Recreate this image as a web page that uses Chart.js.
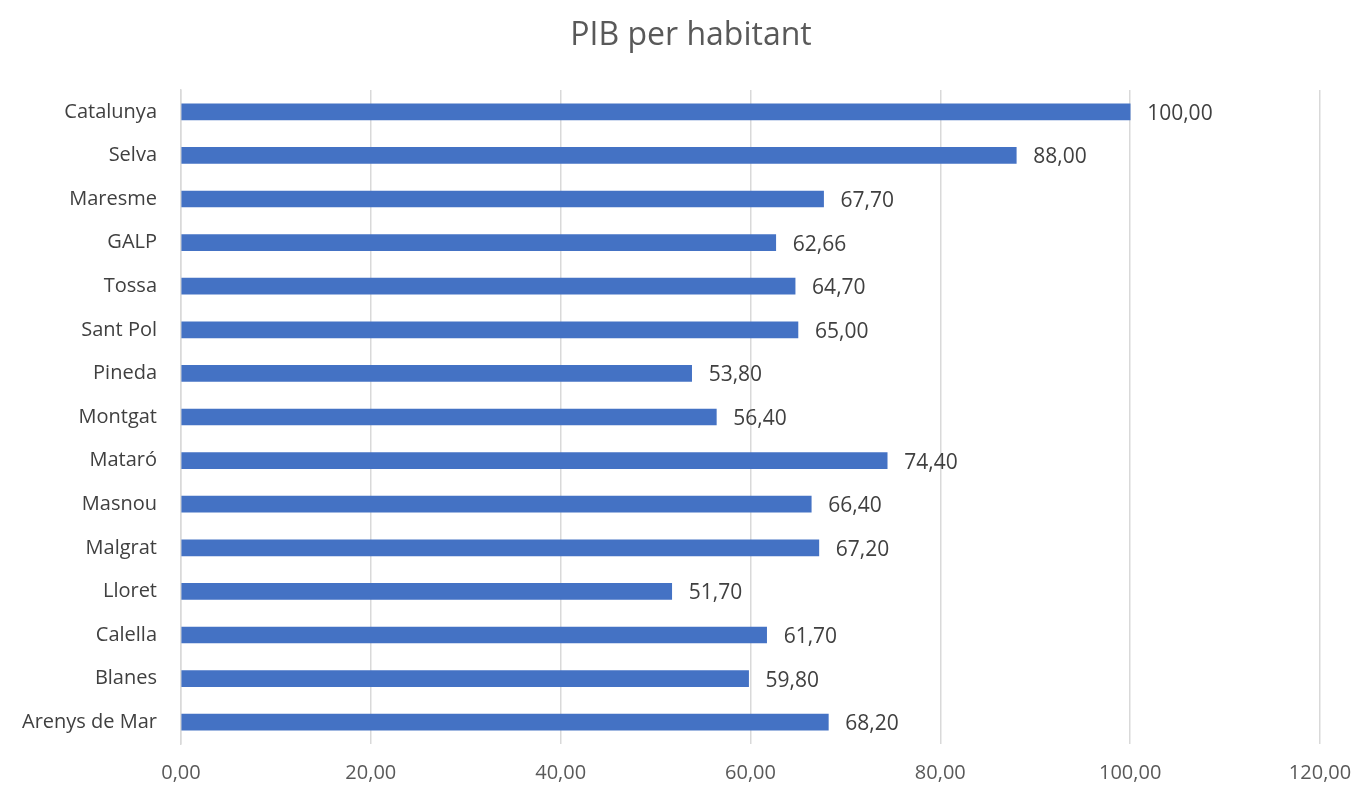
<!DOCTYPE html>
<html>
<head>
<meta charset="utf-8">
<script src="https://cdn.jsdelivr.net/npm/chart.js@4"></script>
<style>
  html, body { margin: 0; padding: 0; background: #fff; }
  #wrap { width: 1357px; height: 791px; }
</style>
</head>
<body>
<div id="wrap"><canvas id="myChart" width="1357" height="791"></canvas></div>
<script>
// category names, top to bottom
const municipis = ['Catalunya', 'Selva', 'Maresme', 'GALP', 'Tossa', 'Sant Pol', 'Pineda',
    'Montgat', 'Mataró', 'Masnou', 'Malgrat', 'Lloret', 'Calella', 'Blanes', 'Arenys de Mar'];
const pibHabitant = [100.00, 88.00, 67.70, 62.66, 64.70, 65.00, 53.80,
    56.40, 74.40, 66.40, 67.20, 51.70, 61.70, 59.80, 68.20];
const xTicks = [0, 20, 40, 60, 80, 100, 120];
const chartTitle = 'PIB per habitant';

const fmt = v => v.toFixed(2).replace('.', ',');
const fontFamily = '"Open Sans", "Noto Sans", sans-serif';

// title drawn a bit right of centre, like the original
const titlePlugin = {
    id: 'titlePlugin',
    afterDraw(chart) {
        const ctx = chart.ctx;
        ctx.save();
        ctx.font = '32px ' + fontFamily;
        ctx.fillStyle = '#595959';
        ctx.textAlign = 'center';
        ctx.textBaseline = 'middle';
        ctx.fillText(chartTitle, 691, 36);
        ctx.restore();
    }
};

// draws the value next to the end of each bar
const valueLabels = {
    id: 'valueLabels',
    afterDatasetsDraw(chart) {
        const ctx = chart.ctx;
        const meta = chart.getDatasetMeta(0);
        ctx.save();
        ctx.font = '21px ' + fontFamily;
        ctx.fillStyle = '#404040';
        ctx.textAlign = 'left';
        ctx.textBaseline = 'middle';
        meta.data.forEach((bar, i) => {
            ctx.fillText(fmt(pibHabitant[i]), bar.x + 17, bar.y + 2);
        });
        ctx.restore();
    }
};

const ctx = document.getElementById('myChart').getContext('2d');
new Chart(ctx, {
    type: 'bar',
    data: {
        labels: municipis,
        datasets: [{
            data: pibHabitant,
            backgroundColor: '#4472C4',
            barThickness: 16
        }]
    },
    options: {
        indexAxis: 'y',
        responsive: false,
        animation: false,
        layout: { padding: { left: 0, right: 37, top: 90, bottom: 0 } },
        plugins: {
            legend: { display: false },
            tooltip: { enabled: false },
            title: { display: false }
        },
        scales: {
            x: {
                min: 0,
                max: 120,
                afterBuildTicks: scale => { scale.ticks = xTicks.map(v => ({ value: v })); },
                afterFit: scale => {
                    scale.height = 47;
                    scale.paddingLeft = 0;
                    scale.paddingRight = 0;
                },
                ticks: {
                    callback: v => fmt(v),
                    color: '#595959',
                    font: { family: fontFamily, size: 20 },
                    padding: 17
                },
                grid: { color: '#d9d9d9', drawTicks: false, lineWidth: 1.5 },
                border: { display: false }
            },
            y: {
                afterFit: scale => { scale.width = 181; },
                ticks: {
                    color: '#404040',
                    font: { family: fontFamily, size: 20 },
                    padding: 24,
                    autoSkip: false
                },
                grid: { display: false, drawTicks: false },
                border: { display: true, color: '#d9d9d9', width: 1.5 }
            }
        }
    },
    plugins: [valueLabels, titlePlugin]
});
</script>
</body>
</html>
